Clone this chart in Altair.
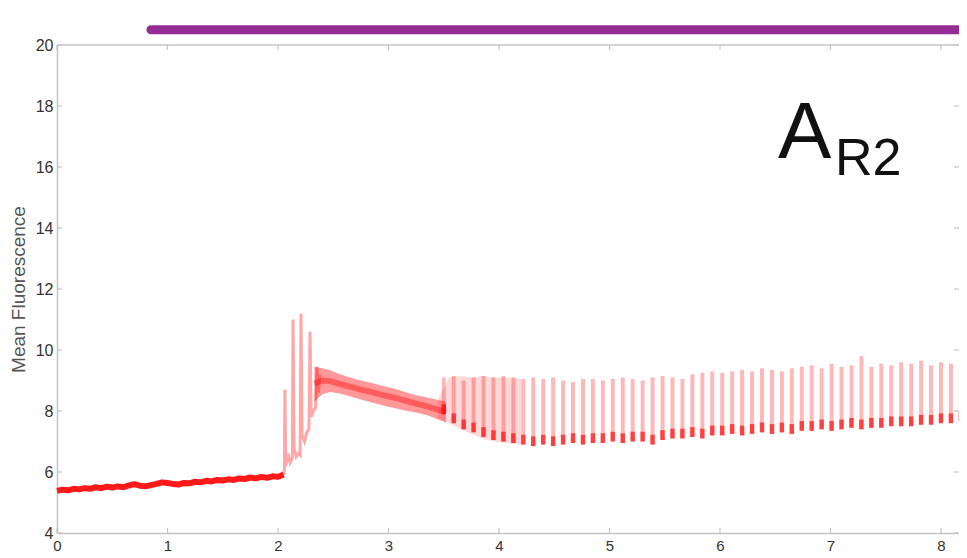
import altair as alt
import pandas as pd

# ---------------- data ----------------
# steady baseline before stimulation
base_t = [0.00, 0.05, 0.10, 0.15, 0.20, 0.25, 0.30, 0.35, 0.40, 0.45, 0.50,
          0.55, 0.60, 0.65, 0.70, 0.75, 0.80, 0.85, 0.90, 0.95, 1.00, 1.05,
          1.10, 1.15, 1.20, 1.25, 1.30, 1.35, 1.40, 1.45, 1.50, 1.55, 1.60,
          1.65, 1.70, 1.75, 1.80, 1.85, 1.90, 1.95, 2.00, 2.05]
base_v = [5.38, 5.42, 5.40, 5.45, 5.43, 5.47, 5.45, 5.50, 5.47, 5.52, 5.49,
          5.53, 5.50, 5.56, 5.60, 5.55, 5.53, 5.57, 5.61, 5.66, 5.64, 5.61,
          5.59, 5.64, 5.63, 5.68, 5.66, 5.71, 5.69, 5.74, 5.72, 5.76, 5.74,
          5.79, 5.77, 5.82, 5.79, 5.84, 5.81, 5.86, 5.84, 5.92]

# initial burst of large transients
burst_t = [2.050, 2.058, 2.063, 2.070, 2.090, 2.110, 2.130, 2.136, 2.145, 2.165,
           2.185, 2.200, 2.208, 2.218, 2.240, 2.260, 2.280, 2.290, 2.300, 2.320,
           2.340, 2.353, 2.365, 2.380]
burst_v = [5.92, 6.10, 8.70, 6.20, 6.60, 6.30, 6.45, 11.00, 6.80, 6.50,
           6.60, 6.55, 11.20, 7.20, 7.00, 7.30, 7.40, 10.60, 7.80, 8.00,
           8.10, 9.45, 8.60, 9.20]

# dense decaying plateau
band_t  = [2.33, 2.40, 2.47, 2.55, 2.65, 2.75, 2.85, 2.95, 3.05, 3.15, 3.25, 3.35, 3.45, 3.52]
band_hi = [9.45, 9.40, 9.34, 9.22, 9.10, 9.00, 8.92, 8.82, 8.74, 8.62, 8.52, 8.44, 8.36, 8.30]
band_lo = [8.30, 8.55, 8.62, 8.58, 8.48, 8.38, 8.28, 8.18, 8.10, 8.02, 7.95, 7.86, 7.72, 7.62]
band_mid = [8.90, 9.00, 8.98, 8.90, 8.80, 8.70, 8.62, 8.52, 8.44, 8.34, 8.24, 8.15, 8.04, 7.96]

# hazy onset of the oscillations
haze_t  = [3.45, 3.55, 3.65, 3.75, 3.85, 3.95, 4.05, 4.20]
haze_hi = [8.40, 9.10, 9.15, 9.10, 9.15, 9.10, 9.10, 9.05]
haze_lo = [7.75, 7.60, 7.40, 7.25, 7.10, 7.00, 6.95, 6.90]

# regular oscillations: time, peak, trough
osc_t = [3.50, 3.59, 3.68, 3.77, 3.86, 3.95, 4.04, 4.13, 4.22, 4.31, 4.40,
         4.49, 4.58, 4.67, 4.76, 4.85, 4.94, 5.03, 5.12, 5.21, 5.30, 5.39,
         5.48, 5.57, 5.66, 5.75, 5.84, 5.93, 6.02, 6.11, 6.20, 6.29, 6.38,
         6.47, 6.56, 6.65, 6.74, 6.83, 6.92, 7.01, 7.10, 7.19, 7.28, 7.37,
         7.46, 7.55, 7.64, 7.73, 7.82, 7.91, 8.00, 8.09, 8.18]
osc_hi = [9.10, 9.15, 9.00, 9.10, 9.15, 9.10, 9.15, 9.10, 9.05, 9.10, 9.05,
          9.10, 9.00, 8.95, 9.05, 9.05, 9.00, 9.05, 9.10, 9.05, 9.00, 9.10,
          9.15, 9.10, 9.05, 9.20, 9.25, 9.30, 9.25, 9.30, 9.35, 9.30, 9.40,
          9.35, 9.30, 9.40, 9.45, 9.50, 9.40, 9.55, 9.45, 9.50, 9.80, 9.45,
          9.55, 9.50, 9.60, 9.55, 9.65, 9.50, 9.60, 9.55, 9.65]
osc_lo = [7.90, 7.60, 7.40, 7.30, 7.15, 7.05, 7.00, 6.95, 6.90, 6.85, 6.90,
          6.85, 6.90, 6.95, 6.90, 6.95, 6.95, 7.00, 6.95, 7.00, 7.00, 6.90,
          7.05, 7.10, 7.10, 7.15, 7.10, 7.20, 7.20, 7.25, 7.20, 7.25, 7.30,
          7.25, 7.30, 7.25, 7.35, 7.35, 7.40, 7.35, 7.40, 7.45, 7.40, 7.45,
          7.45, 7.50, 7.50, 7.50, 7.55, 7.55, 7.60, 7.60, 7.65]
dwell = 0.32  # visible dark dwell at each trough (in fluorescence units)

# stimulus bar
bar_start, bar_end, bar_level = 0.85, 8.40, 20.5

x_ticks = [0, 1, 2, 3, 4, 5, 6, 7, 8]
y_ticks = [4, 6, 8, 10, 12, 14, 16, 18, 20]

# ---------------- tables ----------------
base_df = pd.DataFrame({"t": base_t, "v": base_v})
burst_df = pd.DataFrame({"t": burst_t, "v": burst_v})
band_df = pd.DataFrame({"t": band_t, "v": band_lo, "v2": band_hi})
mid_df = pd.DataFrame({"t": band_t, "v": band_mid})
haze_df = pd.DataFrame({"t": haze_t, "v": haze_lo, "v2": haze_hi})
osc_df = pd.DataFrame({"t": osc_t, "v": osc_lo, "v2": osc_hi})
dot_df = pd.DataFrame({"t": osc_t, "v": osc_lo, "v2": [v + dwell for v in osc_lo]})
bar_df = pd.DataFrame({"t": [bar_start], "t2": [bar_end], "v": [bar_level]})
xt_df = pd.DataFrame({"t": x_ticks})
yt_df = pd.DataFrame({"v": y_ticks})

FONT = "Liberation Sans"
PW, PH = 902, 488
RED = "#ff0000"
GRAY = "#c4c4c4"

xs = alt.Scale(domain=[0, 8.163], nice=False, zero=False)
ys = alt.Scale(domain=[4, 20], nice=False, zero=False)
x_axis = alt.Axis(values=x_ticks, format="d", ticks=False, grid=False,
                  labelFontSize=15, labelPadding=5, labelColor="#333333",
                  labelFlush=False,
                  domainColor=GRAY, domainWidth=1.5, labelFont=FONT,
                  title="Time (min)", titleFont=FONT, titleFontSize=18,
                  titleFontWeight="normal", titleColor="#333333", titlePadding=2)
y_axis = alt.Axis(values=y_ticks, format="d", ticks=False, grid=False,
                  labelFontSize=16, labelPadding=4, labelColor="#333333",
                  labelFlush=False,
                  domainColor=GRAY, domainWidth=1.5, labelFont=FONT,
                  title="Mean Fluorescence", titleFont=FONT, titleFontSize=19,
                  titleFontWeight="normal", titleColor="#555555", titlePadding=7)

X = alt.X("t:Q", scale=xs, axis=x_axis)
Y = alt.Y("v:Q", scale=ys, axis=y_axis)

base = alt.Chart(base_df).mark_line(color=RED, strokeWidth=6, opacity=0.9,
                                    strokeJoin="round").encode(x=X, y=Y)
burst = alt.Chart(burst_df).mark_line(color=RED, strokeWidth=3, opacity=0.35).encode(x=X, y=Y)
band = alt.Chart(band_df).mark_area(color=RED, opacity=0.4).encode(x=X, y=Y, y2="v2:Q")
mid = alt.Chart(mid_df).mark_line(color=RED, strokeWidth=6, opacity=0.4).encode(x=X, y=Y)
haze = alt.Chart(haze_df).mark_area(color=RED, opacity=0.15).encode(x=X, y=Y, y2="v2:Q")
osc = alt.Chart(osc_df).mark_rule(color=RED, strokeWidth=4, opacity=0.28).encode(x=X, y=Y, y2="v2:Q")
dots = alt.Chart(dot_df).mark_rule(color=RED, strokeWidth=4.5, opacity=0.65).encode(x=X, y=Y, y2="v2:Q")

bar = alt.Chart(bar_df).mark_rule(color="#952b95", strokeWidth=9, strokeCap="round",
                                  clip=False).encode(x=X, x2="t2:Q", y=Y)

tick_style = dict(color=GRAY, strokeWidth=1.2)
top_border = alt.Chart(bar_df).mark_rule(color=GRAY, strokeWidth=1.5).encode(
    x=alt.value(0), x2=alt.value(PW), y=alt.value(0))
xt_bottom = alt.Chart(xt_df).mark_rule(**tick_style).encode(x=X, y=alt.value(PH), y2=alt.value(PH - 5))
xt_top = alt.Chart(xt_df).mark_rule(**tick_style).encode(x=X, y=alt.value(0), y2=alt.value(5))
yt_left = alt.Chart(yt_df).mark_rule(**tick_style).encode(y=Y, x=alt.value(0), x2=alt.value(5))
yt_right = alt.Chart(yt_df).mark_rule(**tick_style).encode(y=Y, x=alt.value(PW), x2=alt.value(PW - 5))

label_a = alt.Chart(bar_df).mark_text(text="A", font=FONT, fontSize=80, align="left",
                                      baseline="alphabetic", color="#111111").encode(
    x=alt.value(721), y=alt.value(113))
label_r2 = alt.Chart(bar_df).mark_text(text="R2", font=FONT, fontSize=52, align="left",
                                       baseline="alphabetic", color="#111111").encode(
    x=alt.value(778), y=alt.value(130))

chart = alt.layer(
    haze, band, mid, osc, dots, burst, base, bar, top_border,
    xt_bottom, xt_top, yt_left, yt_right, label_a, label_r2
).properties(
    width=PW, height=PH,
    autosize=alt.AutoSizeParams(type="none"),
    padding={"left": 49, "top": 37, "right": 0, "bottom": 20},
    background="white",
).configure_view(stroke=None)

chart.save("out.html", embed_options={"renderer": "svg", "actions": False})
